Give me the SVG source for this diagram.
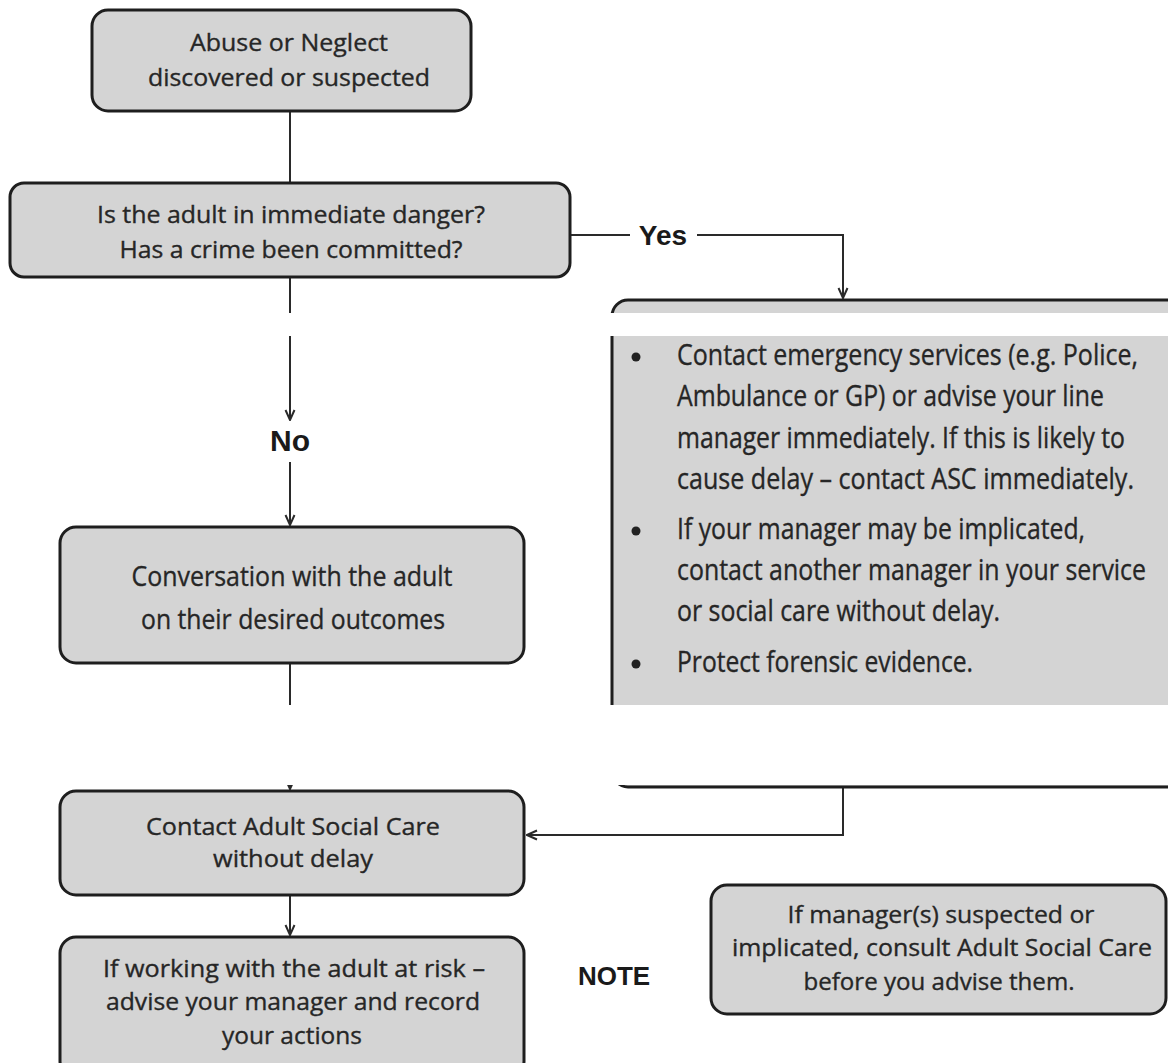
<svg xmlns="http://www.w3.org/2000/svg" width="1168" height="1063" viewBox="0 0 1168 1063">
<defs>
<marker id="arr" viewBox="0 0 12 12" refX="11" refY="6" markerWidth="12" markerHeight="12" markerUnits="userSpaceOnUse" orient="auto">
<path d="M1,1.5 L11,6 L1,10.5" fill="none" stroke="#2a2a2a" stroke-width="2"/>
</marker>
<style>
.box{fill:#d4d4d4;stroke:#1e1e1e;stroke-width:3}
.t{font-family:"Open Sans","Noto Sans","Liberation Sans",sans-serif;fill:#262626;stroke:#262626;stroke-width:0.35;text-anchor:middle}
.b{font-family:"Liberation Sans","Noto Sans",sans-serif;font-weight:bold;fill:#1a1a1a;text-anchor:middle}
.l{font-family:"Open Sans","Noto Sans","Liberation Sans",sans-serif;fill:#262626;stroke:#262626;stroke-width:0.35}
.c{fill:none;stroke:#2a2a2a;stroke-width:2}
</style>
</defs>
<rect width="1168" height="1063" fill="#fff"/>
<g id="connectors">
<line class="c" x1="290" y1="111" x2="290" y2="183"/>
<line class="c" x1="290" y1="277" x2="290" y2="420" marker-end="url(#arr)"/>
<line class="c" x1="290" y1="462" x2="290" y2="525" marker-end="url(#arr)"/>
<line class="c" x1="290" y1="663" x2="290" y2="789" marker-end="url(#arr)"/>
<line class="c" x1="290" y1="895" x2="290" y2="935" marker-end="url(#arr)"/>
<polyline class="c" points="570,235 630,235"/>
<polyline class="c" points="697,235 843,235 843,298" marker-end="url(#arr)"/>
<polyline class="c" points="843,787 843,835 527,835" marker-end="url(#arr)"/>
<text class="b" x="663" y="245" font-size="28">Yes</text>
<text class="b" x="290" y="451" font-size="30">No</text>
</g>
<g id="n1">
<rect class="box" x="92" y="10" width="379" height="101" rx="16"/>
<text class="t" x="289" y="51" font-size="24" textLength="198" lengthAdjust="spacingAndGlyphs">Abuse or Neglect</text>
<text class="t" x="289" y="86" font-size="24" textLength="282" lengthAdjust="spacingAndGlyphs">discovered or suspected</text>
</g>
<g id="n2">
<rect class="box" x="10" y="183" width="560" height="94" rx="14"/>
<text class="t" x="291" y="223" font-size="24" textLength="388" lengthAdjust="spacingAndGlyphs">Is the adult in immediate danger?</text>
<text class="t" x="291" y="258" font-size="24" textLength="343" lengthAdjust="spacingAndGlyphs">Has a crime been committed?</text>
</g>
<g id="n7">
<rect class="box" x="612" y="300" width="570" height="487" rx="16"/>
<circle cx="636" cy="357" r="4.5" fill="#222"/>
<circle cx="636" cy="531" r="4.5" fill="#222"/>
<circle cx="636" cy="664" r="4.5" fill="#222"/>
<text class="l" x="677" y="365" font-size="29" textLength="461" lengthAdjust="spacingAndGlyphs">Contact emergency services (e.g. Police,</text>
<text class="l" x="677" y="406" font-size="29" textLength="427" lengthAdjust="spacingAndGlyphs">Ambulance or GP) or advise your line</text>
<text class="l" x="677" y="448" font-size="29" textLength="448" lengthAdjust="spacingAndGlyphs">manager immediately. If this is likely to</text>
<text class="l" x="677" y="489" font-size="29" textLength="457" lengthAdjust="spacingAndGlyphs">cause delay – contact ASC immediately.</text>
<text class="l" x="677" y="539" font-size="29" textLength="408" lengthAdjust="spacingAndGlyphs">If your manager may be implicated,</text>
<text class="l" x="677" y="580" font-size="29" textLength="469" lengthAdjust="spacingAndGlyphs">contact another manager in your service</text>
<text class="l" x="677" y="621" font-size="29" textLength="323" lengthAdjust="spacingAndGlyphs">or social care without delay.</text>
<text class="l" x="677" y="672" font-size="29" textLength="296" lengthAdjust="spacingAndGlyphs">Protect forensic evidence.</text>
</g>
<g id="scan-gaps">
<rect x="0" y="313" width="1168" height="23" fill="#fff"/>
<rect x="0" y="705" width="1168" height="80" fill="#fff"/>
</g>
<g id="n3">
<rect class="box" x="60" y="527" width="464" height="136" rx="16"/>
<text class="t" x="292" y="586" font-size="28" textLength="321" lengthAdjust="spacingAndGlyphs">Conversation with the adult</text>
<text class="t" x="293" y="629" font-size="28" textLength="304" lengthAdjust="spacingAndGlyphs">on their desired outcomes</text>
</g>
<g id="n4">
<rect class="box" x="60" y="791" width="464" height="104" rx="16"/>
<text class="t" x="293" y="835" font-size="24" textLength="294" lengthAdjust="spacingAndGlyphs">Contact Adult Social Care</text>
<text class="t" x="293" y="867" font-size="24" textLength="160" lengthAdjust="spacingAndGlyphs">without delay</text>
</g>
<g id="n5">
<rect class="box" x="60" y="937" width="464" height="140" rx="16"/>
<text class="t" x="294" y="977" font-size="24" textLength="382" lengthAdjust="spacingAndGlyphs">If working with the adult at risk –</text>
<text class="t" x="293" y="1010" font-size="24" textLength="374" lengthAdjust="spacingAndGlyphs">advise your manager and record</text>
<text class="t" x="292" y="1044" font-size="24" textLength="140" lengthAdjust="spacingAndGlyphs">your actions</text>
</g>
<g id="note">
<text class="b" x="614" y="985" font-size="26">NOTE</text>
</g>
<g id="n6">
<rect class="box" x="711" y="885" width="455" height="129" rx="16"/>
<text class="t" x="941" y="923" font-size="24" textLength="307" lengthAdjust="spacingAndGlyphs">If manager(s) suspected or</text>
<text class="t" x="942" y="956" font-size="24" textLength="420" lengthAdjust="spacingAndGlyphs">implicated, consult Adult Social Care</text>
<text class="t" x="939" y="990" font-size="24" textLength="271" lengthAdjust="spacingAndGlyphs">before you advise them.</text>
</g>
</svg>
